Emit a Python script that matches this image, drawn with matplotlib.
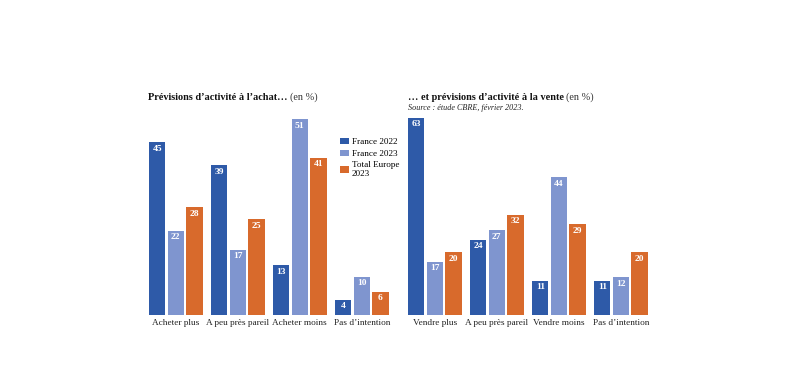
import matplotlib
matplotlib.use("Agg")
import matplotlib.pyplot as plt
from matplotlib.patches import Patch

plt.rcParams['font.family'] = ['Liberation Serif', 'DejaVu Serif']

series = ["France 2022", "France 2023", "Total Europe\n2023"]
colors = ["#2e5aa8", "#7f95cf", "#d86a2c"]

buy_cats = ["Acheter plus", "A peu près pareil", "Acheter moins", "Pas d’intention"]
buy_f22 = [45, 39, 13, 4]
buy_f23 = [22, 17, 51, 10]
buy_eu = [28, 25, 41, 6]

sell_cats = ["Vendre plus", "A peu près pareil", "Vendre moins", "Pas d’intention"]
sell_f22 = [63, 24, 11, 11]
sell_f23 = [17, 27, 44, 12]
sell_eu = [20, 32, 29, 20]

W, H = 800, 370
fig = plt.figure(figsize=(W / 100, H / 100), dpi=100)

step = 0.30
bw = 0.266
half = step + bw / 2
pitch_px = 62.0


def make_axes(left_px, px_per_unit):
    width_px = (3 + 2 * half) * pitch_px
    bottom_px = 315
    top_px = 95
    ax = fig.add_axes([left_px / W, 1 - bottom_px / H, width_px / W, (bottom_px - top_px) / H])
    ax.set_xlim(-half, 3 + half)
    ax.set_ylim(0, (bottom_px - top_px) / px_per_unit)
    for s in ax.spines.values():
        s.set_visible(False)
    ax.set_yticks([])
    ax.tick_params(axis='x', length=0, pad=3, labelsize=6.7, colors="#222222")
    return ax


def draw(ax, cats, vals_list, ppu):
    for j, vals in enumerate(vals_list):
        xs = [g + (j - 1) * step for g in range(len(cats))]
        ax.bar(xs, vals, width=bw, color=colors[j], zorder=2)
        for x, v in zip(xs, vals):
            ax.text(x, v - 6.5 / ppu, str(v), ha='center', va='center', color='white',
                    fontsize=6.8, fontweight='bold', zorder=3)
    ax.set_xticks(range(len(cats)))
    ax.set_xticklabels(cats)


ppu_l = 3.84
ppu_r = 3.13
axl = make_axes(149, ppu_l)
draw(axl, buy_cats, [buy_f22, buy_f23, buy_eu], ppu_l)
axr = make_axes(408, ppu_r)
draw(axr, sell_cats, [sell_f22, sell_f23, sell_eu], ppu_r)

handles = [Patch(facecolor=c, edgecolor='none') for c in colors]
fig.legend(handles, series, loc='upper left', bbox_to_anchor=(340 / W, 1 - 138 / H),
           frameon=False, fontsize=6.6, handlelength=1.0, handleheight=0.7,
           handletextpad=0.3, labelspacing=0.35, borderaxespad=0, borderpad=0)

renderer = fig.canvas.get_renderer()


def title(x_px, y_px, bold, regular, size):
    t = fig.text(x_px / W, 1 - y_px / H, bold, fontsize=size, fontweight='bold',
                 ha='left', va='center', color='#111111')
    bb = t.get_window_extent(renderer)
    fig.text((bb.x1 + 2) / W, 1 - y_px / H, regular, fontsize=size, ha='left', va='center',
             color='#333333')


title(148, 97, "Prévisions d’activité à l’achat…", "(en %)", 7.4)
title(408, 97, "… et prévisions d’activité à la vente", "(en %)", 7.4)
fig.text(408 / W, 1 - 108.5 / H, "Source : étude CBRE, février 2023.", fontsize=5.9,
         style='italic', ha='left', va='center', color='#222222')

fig.savefig("out.png", dpi=100, facecolor='white')
